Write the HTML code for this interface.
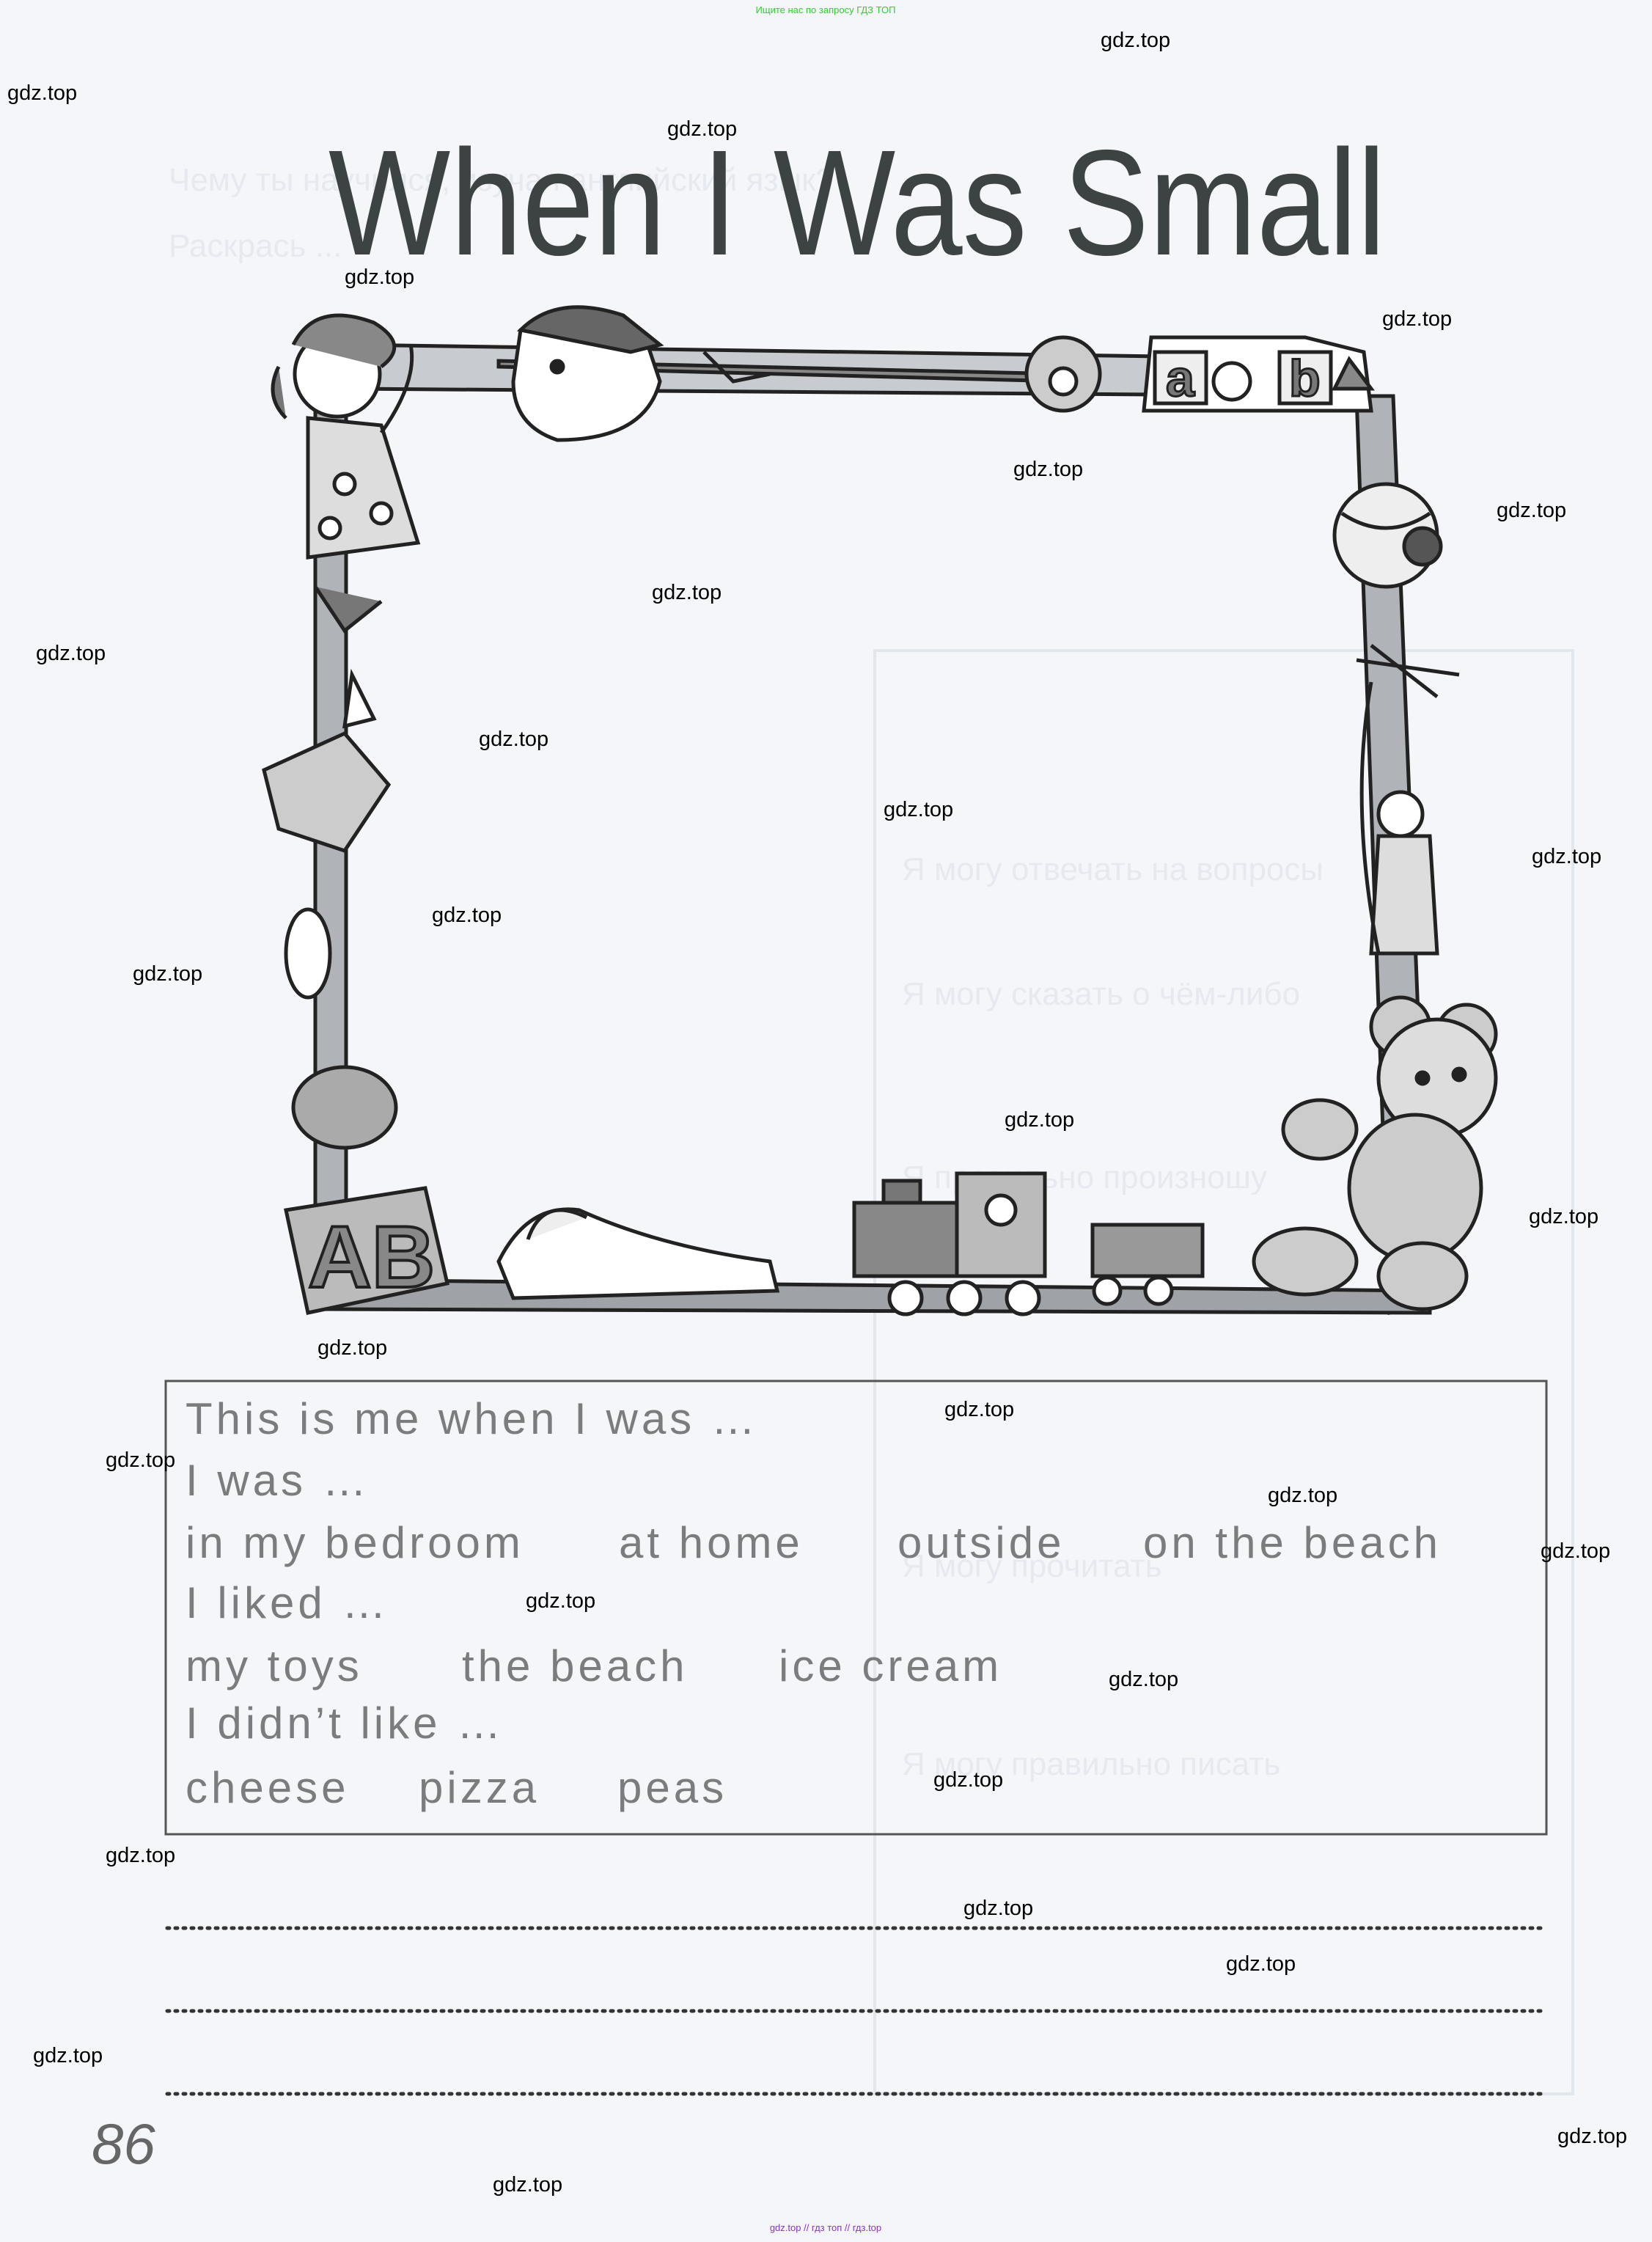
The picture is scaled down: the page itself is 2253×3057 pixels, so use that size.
<!DOCTYPE html>
<html><head><meta charset="utf-8"><style>
html,body{margin:0;padding:0;background:#f4f6f9;}
svg{display:block}
.wm{font-family:"Liberation Sans",sans-serif;font-size:29px;fill:#000}
.hw{font-family:"Liberation Sans",sans-serif;font-size:60px;fill:#7a7c7e;letter-spacing:5px}
.gh{font-family:"Liberation Sans","Noto Sans CJK SC",sans-serif;font-size:44px;fill:#e6e9ef}
</style></head><body>
<svg width="2253" height="3057" viewBox="0 0 2253 3057" xmlns="http://www.w3.org/2000/svg">
<rect width="2253" height="3057" fill="#f4f6f9"/>
<g class="gh">
<text x="230" y="260">Чему ты научился, изучая английский язык?</text>
<text x="230" y="350">Раскрась ...</text>
<text x="1230" y="1200">Я могу отвечать на вопросы</text>
<text x="1230" y="1370">Я могу сказать о чём-либо</text>
<text x="1230" y="1620">Я правильно произношу</text>
<text x="1230" y="2150">Я могу прочитать</text>
<text x="1230" y="2420">Я могу правильно писать</text>
</g>
<rect x="1193" y="887" width="952" height="1968" fill="none" stroke="#e2e6ed" stroke-width="4"/>
<text x="1126" y="18" text-anchor="middle" font-family="Liberation Sans,sans-serif" font-size="13" fill="#3c3">Ищите нас по запросу ГДЗ ТОП</text>
<text x="448" y="347" font-family="Liberation Sans,sans-serif" font-size="205" fill="#3d4242" textLength="1442" lengthAdjust="spacingAndGlyphs">When I Was Small</text>
<g stroke="#222" stroke-width="5" fill="#b9bcc0">
<path d="M470 470 L1860 490 L1860 540 L470 530 Z" fill="#c8cbcf"/>
<path d="M680 500 L1450 520 L1450 510 L680 492 Z" fill="#888"/>
<rect x="430" y="470" width="42" height="1310" fill="#b0b3b7"/>
<path d="M1850 540 L1900 540 L1950 1780 L1895 1790 Z" fill="#b0b3b7"/>
<path d="M430 1745 L1950 1760 L1950 1790 L430 1785 Z" fill="#9fa2a6"/>
</g>
<g stroke="#222" stroke-width="5" fill="#fff">
<circle cx="460" cy="510" r="58"/>
<path d="M400 470 Q430 410 510 440 Q560 470 520 500" fill="#888"/>
<path d="M380 500 Q360 540 390 570" fill="#777"/>
<path d="M420 570 L520 580 L570 740 L420 760 Z" fill="#ddd"/>
<circle cx="470" cy="660" r="14" fill="#fff"/><circle cx="520" cy="700" r="14" fill="#fff"/><circle cx="450" cy="720" r="14" fill="#fff"/>
<path d="M520 590 Q570 520 560 470" fill="none"/>
<path d="M430 800 L470 860 L520 820" fill="#777"/>
</g>
<g stroke="#222" stroke-width="5" fill="#fff">
<path d="M710 450 Q780 420 880 460 L900 520 Q880 600 760 600 Q700 580 700 520 Z"/>
<path d="M710 450 Q760 400 850 430 L900 470 L860 480 Z" fill="#666"/>
<circle cx="760" cy="500" r="8" fill="#222"/>
<path d="M960 480 L1000 520 L1050 510" fill="none"/>
</g>
<g stroke="#222" stroke-width="5">
<circle cx="1450" cy="510" r="50" fill="#ccc"/>
<circle cx="1450" cy="520" r="18" fill="#fff"/>
<path d="M1570 460 L1780 460 L1860 480 L1870 560 L1560 560 Z" fill="#fff"/>
<rect x="1575" y="480" width="70" height="70" fill="#eee"/>
<text x="1590" y="540" font-family="Liberation Sans,sans-serif" font-size="70" font-weight="bold" fill="#777" stroke="#222" stroke-width="3">a</text>
<circle cx="1680" cy="520" r="25" fill="#fff"/>
<rect x="1745" y="480" width="70" height="70" fill="#eee"/>
<text x="1758" y="540" font-family="Liberation Sans,sans-serif" font-size="70" font-weight="bold" fill="#777" stroke="#222" stroke-width="3">b</text>
<path d="M1840 490 L1870 530 L1820 530 Z" fill="#888"/>
</g>
<g stroke="#222" stroke-width="5">
<circle cx="1890" cy="730" r="70" fill="#eee"/>
<path d="M1830 700 Q1890 740 1950 700" fill="none"/>
<circle cx="1940" cy="745" r="25" fill="#555"/>
</g>
<g stroke="#222" stroke-width="5" fill="#ddd">
<path d="M1850 900 L1990 920 M1870 880 L1960 950" fill="none"/>
<circle cx="1910" cy="1110" r="30" fill="#fff"/>
<path d="M1880 1140 L1950 1140 L1960 1300 L1870 1300 Z"/>
<path d="M1870 930 Q1840 1100 1880 1300" fill="none"/>
</g>
<g stroke="#222" stroke-width="5" fill="#ccc">
<circle cx="1910" cy="1400" r="40"/><circle cx="2000" cy="1410" r="40"/>
<circle cx="1960" cy="1470" r="80" fill="#ddd"/>
<ellipse cx="1930" cy="1620" rx="90" ry="100" fill="#ccc"/>
<ellipse cx="1800" cy="1540" rx="50" ry="40" fill="#ccc"/>
<ellipse cx="1780" cy="1720" rx="70" ry="45" fill="#ccc"/>
<ellipse cx="1940" cy="1740" rx="60" ry="45" fill="#ccc"/>
<circle cx="1940" cy="1470" r="8" fill="#222"/><circle cx="1990" cy="1465" r="8" fill="#222"/>
</g>
<g stroke="#222" stroke-width="5">
<rect x="1165" y="1640" width="140" height="100" fill="#888"/>
<rect x="1205" y="1610" width="50" height="30" fill="#777"/>
<rect x="1305" y="1600" width="120" height="140" fill="#bbb"/>
<circle cx="1365" cy="1650" r="20" fill="#fff"/>
<rect x="1490" y="1670" width="150" height="70" fill="#999"/>
<g fill="#fff"><circle cx="1235" cy="1770" r="22"/><circle cx="1315" cy="1770" r="22"/><circle cx="1395" cy="1770" r="22"/><circle cx="1510" cy="1760" r="18"/><circle cx="1580" cy="1760" r="18"/></g>
</g>
<g stroke="#222" stroke-width="5">
<path d="M360 1050 L470 1000 L530 1070 L470 1160 L380 1130 Z" fill="#ccc"/>
<path d="M480 920 L510 980 L470 990 Z" fill="#fff"/>
<ellipse cx="420" cy="1300" rx="30" ry="60" fill="#fff"/>
<ellipse cx="470" cy="1510" rx="70" ry="55" fill="#aaa"/>
</g>
<g stroke="#222" stroke-width="5">
<path d="M390 1650 L580 1620 L610 1750 L420 1790 Z" fill="#bbb"/>
<text x="420" y="1755" font-family="Liberation Sans,sans-serif" font-size="120" font-weight="bold" fill="#888" stroke="#222" stroke-width="4">AB</text>
<path d="M680 1720 Q720 1640 790 1650 Q900 1700 1050 1720 L1060 1760 L700 1770 Z" fill="#fff"/>
<path d="M720 1690 Q740 1630 800 1660" fill="#eee"/>
</g>
<rect x="226" y="1883" width="1883" height="618" fill="none" stroke="#555" stroke-width="3"/>
<g class="hw">
<text x="253" y="1955">This is me when I was …</text>
<text x="253" y="2039">I was …</text>
<text x="253" y="2124">in my bedroom</text><text x="844" y="2124">at home</text><text x="1224" y="2124">outside</text><text x="1559" y="2124">on the beach</text>
<text x="253" y="2206">I liked …</text>
<text x="253" y="2292">my toys</text><text x="630" y="2292">the beach</text><text x="1062" y="2292">ice cream</text>
<text x="253" y="2370">I didn’t like …</text>
<text x="253" y="2458">cheese</text><text x="571" y="2458">pizza</text><text x="842" y="2458">peas</text>
</g>
<g stroke="#333" stroke-width="5" stroke-dasharray="3 8" stroke-linecap="round">
<line x1="228" y1="2629" x2="2105" y2="2629"/>
<line x1="228" y1="2742" x2="2105" y2="2742"/>
<line x1="228" y1="2855" x2="2105" y2="2855"/>
</g>
<text x="125" y="2950" font-family="Liberation Sans,sans-serif" font-style="italic" font-size="78" fill="#666">86</text>
<g class="wm">
<text x="1501" y="64">gdz.top</text><text x="10" y="136">gdz.top</text><text x="910" y="185">gdz.top</text>
<text x="470" y="387">gdz.top</text><text x="1885" y="444">gdz.top</text><text x="1382" y="649">gdz.top</text>
<text x="2041" y="705">gdz.top</text><text x="889" y="817">gdz.top</text><text x="49" y="900">gdz.top</text>
<text x="653" y="1017">gdz.top</text><text x="1205" y="1113">gdz.top</text><text x="2089" y="1177">gdz.top</text>
<text x="589" y="1257">gdz.top</text><text x="181" y="1337">gdz.top</text><text x="1370" y="1536">gdz.top</text>
<text x="2085" y="1668">gdz.top</text><text x="433" y="1847">gdz.top</text><text x="1288" y="1931">gdz.top</text>
<text x="144" y="2000">gdz.top</text><text x="1729" y="2048">gdz.top</text><text x="2101" y="2124">gdz.top</text>
<text x="717" y="2192">gdz.top</text><text x="1512" y="2299">gdz.top</text><text x="1273" y="2436">gdz.top</text>
<text x="144" y="2539">gdz.top</text><text x="1314" y="2611">gdz.top</text><text x="1672" y="2687">gdz.top</text>
<text x="45" y="2812">gdz.top</text><text x="2124" y="2922">gdz.top</text><text x="672" y="2988">gdz.top</text>
</g>
<text x="1126" y="3042" text-anchor="middle" font-family="Liberation Sans,sans-serif" font-size="13" fill="#83c">gdz.top // гдз топ // гдз.top</text>
</svg>
</body></html>
